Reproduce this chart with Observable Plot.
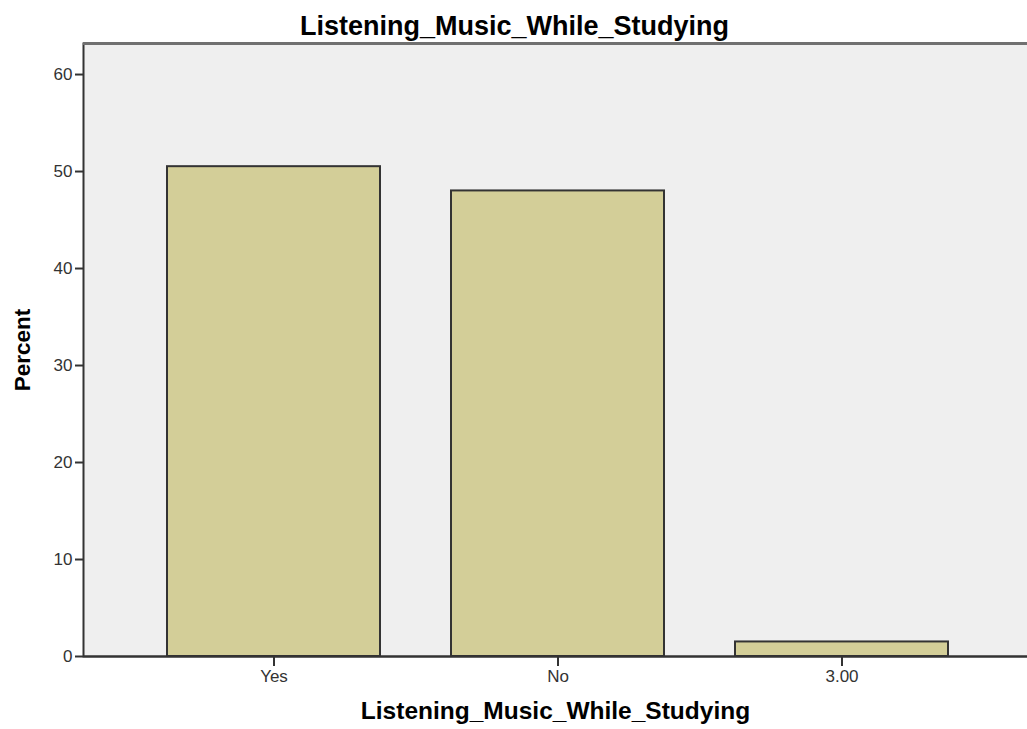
<!DOCTYPE html>
<html>
<head>
<meta charset="utf-8">
<script src="https://cdn.jsdelivr.net/npm/d3@7"></script>
<script src="https://cdn.jsdelivr.net/npm/@observablehq/plot@0.6"></script>
<style>
  html, body { margin: 0; padding: 0; background: #fff; overflow: hidden; }
  #chart svg { display: block; }
</style>
</head>
<body>
<div id="chart"></div>
<script>
const categories = ["Yes", "No", "3.00"];
const percents = [50.5, 48.0, 1.5];
const yTicks = [0, 10, 20, 30, 40, 50, 60];
const titleText = "Listening_Music_While_Studying";
const xLabel = "Listening_Music_While_Studying";
const yLabel = "Percent";

const data = categories.map((c, i) => ({category: c, percent: percents[i]}));
const yMax = 63.2;

const chart = Plot.plot({
  width: 1027,
  height: 729,
  marginLeft: 83,
  marginRight: 0,
  marginTop: 43,
  marginBottom: 73,
  style: {background: "#ffffff", fontFamily: "Liberation Sans, Arial, sans-serif", fontSize: "17px", color: "#333"},
  x: {domain: categories, range: [83, 1032], paddingInner: 0.25, paddingOuter: 0.293},
  y: {domain: [0, yMax]},
  marks: [
    Plot.frame({fill: "#efefef", stroke: "#333", strokeWidth: 2, insetRight: -10}),
    Plot.ruleY([yMax], {stroke: "#707070", strokeWidth: 3}),
    Plot.barY(data, {x: "category", y: "percent", fill: "#d3ce98", stroke: "#333", strokeWidth: 2}),
    Plot.ruleY([0], {stroke: "#333", strokeWidth: 2}),
    Plot.axisY({ticks: yTicks, tickSize: 8, tickPadding: 3, tickFormat: d => String(d), label: null, stroke: "#333", strokeWidth: 2, fontSize: 17, fill: "#333"}),
    Plot.axisX({tickSize: 10, tickPadding: 3, label: null, stroke: "#333", strokeWidth: 2, fontSize: 17, fill: "#333"}),
    Plot.text([titleText], {frameAnchor: "top", lineAnchor: "middle", textAnchor: "middle", dy: -17, dx: -41, text: d => d, fontSize: 27, fontWeight: "bold", fill: "#000"}),
    Plot.text([xLabel], {frameAnchor: "bottom", lineAnchor: "middle", textAnchor: "middle", dy: 55, text: d => d, fontSize: 24.5, fontWeight: "bold", fill: "#000"}),
    Plot.text([yLabel], {frameAnchor: "left", lineAnchor: "middle", textAnchor: "middle", dx: -61, text: d => d, rotate: -90, fontSize: 22.5, fontWeight: "bold", fill: "#000"})
  ]
});
document.getElementById("chart").appendChild(chart);
</script>
</body>
</html>
